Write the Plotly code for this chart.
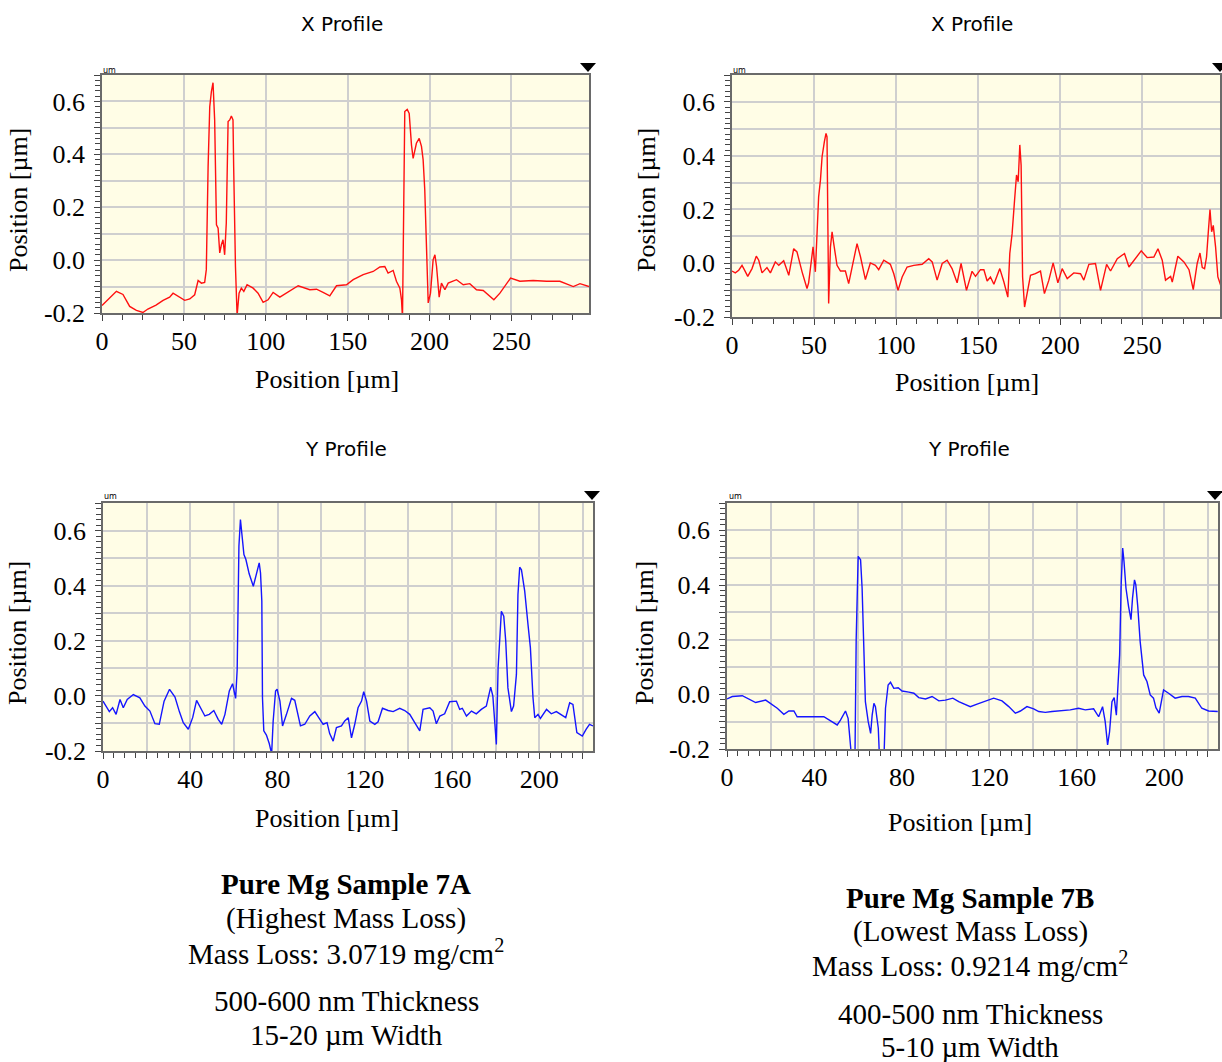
import plotly.graph_objects as go

W, H = 1222, 1062

# ---- Sample 7A, X profile (position in um, height in um) ----
x7a_pos = [0, 8.8, 12.8, 16.9, 21, 25, 28, 33, 37.3, 41.3, 43.4, 46.4, 50.5, 53.6, 56.6,
           58.7, 60.7, 62.7, 63.7, 64.8, 65.8, 66.8, 67.8, 68.8, 69.9, 70.9, 71.9, 72.9,
           73.9, 74.9, 75.9, 77, 78, 79, 80, 80.4, 81.5, 82.5, 83.7, 85.1, 86.6, 88.6,
           92.3, 95.3, 98.4, 101.4, 104.5, 108.6, 112.6, 119.8, 126.9, 131, 135, 139.1,
           143.2, 149.3, 153.4, 159.5, 165.6, 169.7, 172.7, 174.7, 177.8, 179.8, 181.9,
           182.9, 183.5, 184.1, 184.9, 186.4, 187.6, 189, 190, 192, 193.7, 195.1, 196.1,
           197.1, 198.2, 199.2, 200.6, 202.2, 203.3, 204.3, 205.9, 207.3, 209.4, 211.4,
           216.5, 220.6, 224.6, 228.7, 232.8, 236.9, 239.3, 243, 249.5, 255.2, 263.3,
           271.5, 279.6, 287.8, 291.9, 297.4]
x7a_h = [-0.172, -0.118, -0.13, -0.175, -0.19, -0.198, -0.185, -0.17, -0.152, -0.14,
         -0.125, -0.137, -0.152, -0.147, -0.131, -0.077, -0.087, -0.084, -0.036, 0.354,
         0.58, 0.637, 0.671, 0.53, 0.133, 0.121, 0.027, 0.058, 0.077, 0.02, 0.14, 0.524,
         0.53, 0.545, 0.53, 0.354, -0.024, -0.21, -0.125, -0.106, -0.118, -0.093, -0.106,
         -0.125, -0.16, -0.15, -0.122, -0.14, -0.125, -0.097, -0.112, -0.11, -0.122,
         -0.135, -0.097, -0.093, -0.074, -0.055, -0.043, -0.026, -0.024, -0.049, -0.039,
         -0.08, -0.106, -0.15, -0.22, 0.152, 0.562, 0.57, 0.555, 0.435, 0.385, 0.442,
         0.46, 0.43, 0.38, 0.266, 0.039, -0.162, -0.125, 0.001, 0.02, -0.024, -0.14,
         -0.087, -0.112, -0.087, -0.074, -0.093, -0.089, -0.112, -0.115, -0.135, -0.15,
         -0.125, -0.068, -0.08, -0.077, -0.08, -0.08, -0.1, -0.089, -0.1]

# ---- Sample 7B, X profile ----
x7b_pos = [0, 2, 4.1, 6.1, 7.5, 9.6, 12.2, 14.8, 16.3, 18.3, 21.3, 23.4, 26.4, 28.5, 31.5,
           34.6, 37.6, 39.6, 42.7, 45.7, 46.7, 47.8, 49.4, 50.8, 51.8, 52.8, 53.9, 54.9,
           56.3, 57.3, 57.9, 58.5, 58.9, 60, 61, 62, 64, 66.1, 69.1, 71.1, 73.2, 76.2,
           78.3, 81.3, 84.3, 87.4, 89.4, 92.5, 96.5, 98.6, 101.2, 103.7, 106.7, 110.8,
           115.9, 119.9, 122, 125, 128.1, 131.1, 134.1, 137.2, 139.6, 142.9, 146.3, 148.4,
           151.4, 153.5, 155.5, 157.5, 159.6, 163.2, 165.7, 168.1, 169.3, 170.7, 172.2,
           173.4, 174.4, 175.4, 176.2, 177.1, 178.3, 179.9, 181.9, 184.9, 188, 190.4,
           193.1, 195.7, 198.6, 201.2, 204.3, 208.3, 212.4, 214.4, 217.5, 221.5, 224.6,
           228.3, 230.7, 234.8, 239.2, 241.9, 244.9, 249.4, 253, 257.1, 259.6, 262.2,
           264.2, 267.3, 268.3, 271.7, 275.4, 278.5, 281.1, 283.5, 285.2, 286.6, 288,
           289.2, 290.2, 291.3, 292.3, 293.3, 294.7, 296.1, 297.8]
x7b_h = [-0.029, -0.036, -0.026, -0.008, -0.024, -0.049, -0.02, 0.026, 0.011, -0.036,
         -0.016, -0.036, 0.005, -0.008, 0.009, -0.045, 0.054, 0.042, -0.032, -0.094,
         -0.073, -0.014, 0.061, -0.032, 0.11, 0.247, 0.309, 0.396, 0.452, 0.483, 0.47,
         -0.063, -0.15, 0.061, 0.117, 0.073, -0.008, -0.029, -0.029, -0.076, -0.014,
         0.073, 0.024, -0.061, 0.001, -0.008, -0.024, 0.011, -0.004, -0.039, -0.101,
         -0.051, -0.014, -0.008, -0.004, 0.017, 0.005, -0.063, -0.001, 0.011, -0.02,
         -0.073, -0.001, -0.101, -0.03, -0.049, -0.024, -0.024, -0.066, -0.051, -0.078,
         -0.02, -0.07, -0.126, 0.036, 0.11, 0.234, 0.328, 0.303, 0.44, 0.365, -0.051,
         -0.163, -0.113, -0.045, -0.039, -0.029, -0.113, -0.063, 0.001, -0.073, -0.02,
         -0.057, -0.036, -0.039, -0.063, -0.004, -0.001, -0.101, -0.004, -0.029, 0.017,
         0.036, -0.014, 0.011, 0.046, 0.021, 0.023, 0.054, 0.011, -0.063, -0.049, -0.07,
         0.026, 0.005, -0.024, -0.098, -0.001, 0.038, -0.016, -0.02, 0.023, 0.11, 0.2,
         0.117, 0.141, 0.061, -0.051, -0.082]

# ---- Sample 7A, Y profile ----
y7a_pos = [0, 1.4, 2.9, 4.4, 6, 7.8, 9.3, 11.1, 13.9, 16.9, 19.2, 21.5, 23.8, 25.8, 28,
           30.5, 33, 35, 36.8, 39.1, 41.1, 42.9, 44.7, 46.7, 48.7, 50.8, 52.8, 54.4, 55.9,
           57.9, 59.4, 60.8, 61.5, 62.3, 63, 63.7, 64.6, 65.5, 67, 68.9, 70.4, 71.6, 72.2,
           72.8, 73.1, 73.7, 74.9, 76.2, 77.3, 78, 79.1, 79.8, 81.1, 82.3, 84.1, 86.4,
           87.9, 90.5, 92.5, 94.8, 97.1, 99.1, 100.9, 102.7, 103.9, 105.5, 107, 109.3,
           110.8, 112.4, 113.9, 115.4, 116.9, 118.5, 119.5, 120.8, 122.3, 124.6, 126.1,
           128.1, 130.7, 133, 136, 138.3, 140.6, 142.9, 145.2, 146.7, 149.8, 151.3, 152.8,
           154.4, 156.6, 158.9, 162, 163.5, 164.7, 166.6, 168.9, 171.1, 173.4, 175.7,
           177.7, 178.7, 179.5, 180.3, 181.1, 182.6, 183.7, 184.6, 185.6, 187.2, 188.2,
           189.5, 190.2, 191, 191.8, 193.3, 194.8, 195.9, 197.1, 197.9, 199.4, 200.5,
           203.3, 205.5, 207.8, 210.1, 212.1, 213.9, 215.4, 217.2, 219.7, 221.5, 223, 224.6]
y7a_h = [-0.019, -0.037, -0.057, -0.043, -0.067, -0.013, -0.043, -0.013, 0.005, -0.007,
         -0.037, -0.055, -0.101, -0.103, -0.019, 0.024, -0.004, -0.057, -0.097, -0.121,
         -0.079, -0.016, -0.043, -0.073, -0.067, -0.053, -0.085, -0.103, -0.067, 0.018,
         0.044, -0.009, 0.096, 0.543, 0.64, 0.574, 0.513, 0.495, 0.443, 0.398, 0.452,
         0.483, 0.446, 0.344, -0.007, -0.127, -0.142, -0.173, -0.21, -0.091, 0.018, 0.024,
         -0.019, -0.109, -0.067, -0.009, -0.016, -0.109, -0.103, -0.073, -0.057, -0.079,
         -0.103, -0.097, -0.137, -0.164, -0.115, -0.109, -0.091, -0.079, -0.152, -0.103,
         -0.043, -0.019, 0.015, -0.019, -0.091, -0.103, -0.094, -0.045, -0.053, -0.057,
         -0.045, -0.053, -0.067, -0.097, -0.127, -0.049, -0.043, -0.055, -0.101, -0.073,
         -0.065, -0.021, -0.019, -0.049, -0.045, -0.073, -0.055, -0.065, -0.049, -0.037,
         0.032, -0.001, -0.091, -0.176, 0.102, 0.307, 0.289, 0.199, 0.029, -0.057, -0.037,
         0.078, 0.368, 0.467, 0.458, 0.38, 0.259, 0.175, -0.007, -0.079, -0.067, -0.082,
         -0.049, -0.065, -0.057, -0.07, -0.079, -0.025, -0.031, -0.133, -0.146, -0.121,
         -0.103, -0.109]

# ---- Sample 7B, Y profile ----
y7b_pos = [0, 2.4, 7, 10.1, 13.1, 17.7, 20.7, 23, 26, 28.3, 30.6, 32.1, 35.9, 40.5, 44.3,
           47.4, 50.4, 51.9, 54.2, 55.4, 56.5, 57.3, 58.5, 59.1, 60, 61.1, 61.8, 62.6,
           63.3, 64.6, 65.7, 66.4, 67.2, 67.9, 69.2, 69.9, 71.7, 72.5, 73.7, 74.8, 76.3,
           78.3, 80.1, 83.2, 85.5, 87.7, 90.8, 93.8, 96.9, 99.9, 103.3, 106, 109.1, 111.3,
           114.4, 118.2, 122, 125.8, 128.9, 131.9, 134.2, 137.2, 140.3, 142.6, 145.6,
           148.7, 153.2, 157, 160.8, 163.9, 167.7, 170, 171.8, 173, 174.1, 175, 176.1,
           177.1, 178.1, 178.8, 179.6, 180.3, 181, 181.6, 182.5, 183.7, 184.8, 185.5,
           186.4, 187, 187.9, 189, 190.6, 192.1, 193.6, 195.1, 196.2, 197.7, 199.7, 202,
           205, 208.1, 211.1, 214.2, 217.2, 220.3, 224.5]
y7b_h = [-0.017, -0.008, -0.005, -0.017, -0.03, -0.021, -0.039, -0.051, -0.073, -0.061,
         -0.061, -0.082, -0.082, -0.082, -0.082, -0.097, -0.112, -0.094, -0.061, -0.088,
         -0.173, -0.26, -0.26, 0.205, 0.505, 0.492, 0.389, 0.193, -0.027, -0.1, -0.143,
         -0.076, -0.033, -0.045, -0.124, -0.26, -0.26, -0.051, 0.034, 0.044, 0.022, 0.024,
         0.012, 0.008, 0.004, -0.012, -0.017, -0.008, -0.024, -0.021, -0.014, -0.027,
         -0.039, -0.045, -0.036, -0.024, -0.014, -0.024, -0.045, -0.069, -0.061, -0.045,
         -0.053, -0.063, -0.066, -0.063, -0.061, -0.057, -0.051, -0.057, -0.053, -0.082,
         -0.045, -0.1, -0.185, -0.137, -0.027, -0.012, -0.076, 0.022, 0.144, 0.401, 0.535,
         0.486, 0.389, 0.321, 0.273, 0.352, 0.419, 0.401, 0.321, 0.193, 0.071, 0.047,
         -0.002, -0.014, -0.049, -0.069, 0.016, 0.004, -0.014, -0.008, -0.008, -0.014,
         -0.051, -0.061, -0.063]

# ---- axis ticks and text ----
y_grid = [-0.2, -0.1, 0.0, 0.1, 0.2, 0.3, 0.4, 0.5, 0.6, 0.7]
y_text = ["-0.2", " ", "0.0", " ", "0.2", " ", "0.4", " ", "0.6", " "]
x_grid_top = [0, 50, 100, 150, 200, 250]
x_text_top = ["0", "50", "100", "150", "200", "250"]
x_grid_bottom = [0, 20, 40, 60, 80, 100, 120, 140, 160, 180, 200, 220]
x_text_bottom = ["0", " ", "40", " ", "80", " ", "120", " ", "160", " ", "200", " "]

panel_titles = ["X Profile", "X Profile", "Y Profile", "Y Profile"]
axis_title = "Position [µm]"
caption_7a = ["<b>Pure Mg Sample 7A</b>", "(Highest Mass Loss)",
              "Mass Loss: 3.0719 mg/cm<sup>2</sup>", "500-600 nm Thickness", "15-20 µm Width"]
caption_7b = ["<b>Pure Mg Sample 7B</b>", "(Lowest Mass Loss)",
              "Mass Loss: 0.9214 mg/cm<sup>2</sup>", "400-500 nm Thickness", "5-10 µm Width"]


def px(x):
    return x / W


def py(y):
    return 1 - y / H


SERIF = "Liberation Serif"
SANS = "DejaVu Sans"
PLOT_BG = "#FFFDE6"

# panel boxes in pixels: left, right, top, bottom
boxes = [(102, 589, 75, 313), (732, 1220, 75, 317),
         (103, 593, 503, 751), (727, 1218, 503, 749)]

fig = go.Figure()

series = [(x7a_pos, x7a_h, "#FF1010"), (x7b_pos, x7b_h, "#FF1010"),
          (y7a_pos, y7a_h, "#1515FF"), (y7b_pos, y7b_h, "#1515FF")]

for i, (xs, ys, col) in enumerate(series):
    n = "" if i == 0 else str(i + 1)
    fig.add_trace(go.Scatter(x=xs, y=ys, mode="lines", xaxis="x" + n, yaxis="y" + n,
                             line=dict(color=col, width=1.4), showlegend=False,
                             hoverinfo="skip"))

frame = dict(showline=True, linecolor="#6A6A6A", linewidth=1.5, mirror=True,
             ticks="outside", ticklen=6, tickwidth=1.2, tickcolor="#444444",
             showgrid=True, gridcolor="#CFCFCF", gridwidth=1.6, zeroline=False,
             tickfont=dict(family=SERIF, size=26, color="black"), fixedrange=True,
             automargin=False, layer="above traces")

layout_axes = {}
for i, (l, r, t, b) in enumerate(boxes):
    n = "" if i == 0 else str(i + 1)
    top = i < 2
    xax = dict(frame)
    xax.update(domain=[px(l), px(r)], anchor="y" + n,
               range=[0, 297.4] if top else [0, 224.6],
               tickmode="array",
               tickvals=x_grid_top if top else x_grid_bottom,
               ticktext=x_text_top if top else x_text_bottom,
               ticklabelstandoff=-2,
               minor=dict(ticks="outside", ticklen=5, tickcolor="#444444",
                          dtick=12.5 if top else 5, tick0=0, showgrid=False))
    yax = dict(frame)
    yax.update(domain=[py(b), py(t)], anchor="x" + n, range=[-0.2, 0.7],
               tickmode="array", tickvals=y_grid, ticktext=y_text,
               ticklabelstandoff=4,
               minor=dict(ticks="outside", ticklen=5, tickcolor="#444444",
                          dtick=0.02, tick0=-0.2, showgrid=False))
    layout_axes["xaxis" + n] = xax
    layout_axes["yaxis" + n] = yax

annotations = []


def label(text, x, y, size, family=SERIF, angle=0):
    annotations.append(dict(text=text, x=px(x), y=py(y), xref="paper", yref="paper",
                            showarrow=False, xanchor="center", yanchor="middle",
                            textangle=angle,
                            font=dict(family=family, size=size, color="black")))


title_xy = [(342, 24), (972, 24), (346, 449), (969, 449)]
xtitle_xy = [(327, 380), (967, 382), (327, 818), (960, 822)]
ytitle_xy = [(19, 200), (647, 200), (17, 633), (644, 633)]
unit_xy = [(109, 70), (739, 70), (110, 496), (735, 496)]

for i in range(4):
    label(panel_titles[i], *title_xy[i], 20, family=SANS)
    label(axis_title, *xtitle_xy[i], 26)
    label(axis_title, *ytitle_xy[i], 26, angle=-90)
    label("um", *unit_xy[i], 8, family=SANS)

for k, yy in enumerate([884, 918, 952, 1001, 1035]):
    label(caption_7a[k], 346, yy, 29)
for k, yy in enumerate([898, 931, 964, 1014, 1047]):
    label(caption_7b[k], 970, yy, 29)

# small cursor markers at each panel's top-right corner
shapes = []
for (cx, cy) in [(588, 63), (1220, 63), (592, 491), (1215, 491)]:
    path = "M {} {} L {} {} L {} {} Z".format(px(cx - 8), py(cy), px(cx + 8), py(cy),
                                              px(cx), py(cy + 9))
    shapes.append(dict(type="path", path=path, xref="paper", yref="paper",
                       fillcolor="black", line=dict(color="black", width=0)))

fig.update_layout(template="none", width=W, height=H, autosize=False,
                  margin=dict(l=0, r=0, t=0, b=0),
                  paper_bgcolor="white", plot_bgcolor=PLOT_BG,
                  annotations=annotations, shapes=shapes, **layout_axes)

fig.write_html("out.html")
